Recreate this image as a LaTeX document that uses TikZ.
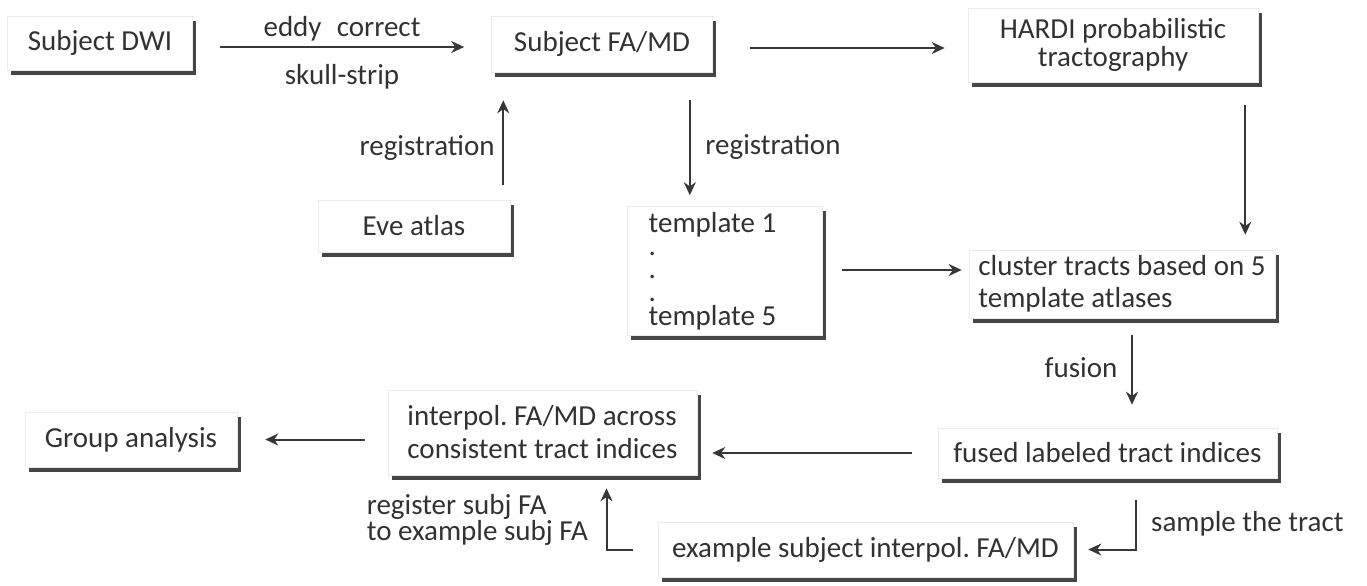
\documentclass[tikz,border=0pt]{standalone}
\usepackage{fontspec}
\setmainfont{Carlito}
\usepackage{tikz}
\usetikzlibrary{arrows.meta,shadows,calc,positioning}
\frenchspacing
\definecolor{txtcolor}{RGB}{50,50,50}
\definecolor{edgecolor}{RGB}{55,55,55}
\definecolor{shadowcolor}{RGB}{50,50,50}
\tikzstyle{every node}=[font=\fontsize{14.5}{16}\selectfont, text=txtcolor]
\tikzstyle{stage}=[rectangle, draw=black!8, line width=0.3pt, fill=white, align=center, inner sep=0pt, drop shadow={shadow xshift=1.8pt, shadow yshift=-2.3pt, fill=shadowcolor, opacity=0.9}]
\tikzstyle{stage left}=[stage, align=left]
\tikzstyle{flowedge}=[-{Stealth[length=6.5pt,width=6pt]}, line width=1pt, edgecolor]

\begin{document}
\begin{tikzpicture}[x=0.5pt, y=-0.5pt]
\useasboundingbox (0,0) rectangle (1367,585);

    % pipeline stages
    \node[stage, minimum width=92.5pt, minimum height=27pt] (dwi) at (100,43) {Subject DWI};
    \node[stage, minimum width=110.5pt, minimum height=28pt] (famd) at (602,44) {Subject FA/MD};
    \node[stage, minimum width=145pt, minimum height=37pt, font=\fontsize{14.5}{14}\selectfont] (hardi) at (1113,45) {HARDI probabilistic\\tractography};
    \node[stage, minimum width=96pt, minimum height=26pt] (eve) at (414,226) {Eve atlas};
    \node[stage left, minimum width=97.5pt, minimum height=64.5pt, font=\fontsize{14.5}{11.6}\selectfont] (tmpl) at (724.5,271) {template 1\hspace*{12pt}\\.\\.\\.\\template 5};
    \node[stage left, minimum width=153pt, minimum height=34pt] (clust) at (1122,284) {cluster tracts based on 5\\template atlases};
    \node[stage, minimum width=169.5pt, minimum height=25pt] (fused) at (1107.5,453) {fused labeled tract indices};
    \node[stage left, minimum width=154.5pt, minimum height=42.5pt, font=\fontsize{14.5}{16.5}\selectfont] (interp) at (542.5,432.5) {interpol. FA/MD across\\consistent tract indices};
    \node[stage, minimum width=106pt, minimum height=27.5pt] (group) at (131,439.5) {Group analysis};
    \node[stage, minimum width=207.5pt, minimum height=27.5pt] (example) at (865.5,549.5) {example subject interpol. FA/MD};

    % top row
    \draw[flowedge, shorten <=13.5pt, shorten >=13.5pt] ([yshift=-2pt]dwi.east) -- ([yshift=-2pt]dwi.east -| famd.west)
        node[midway, yshift=9pt] {eddy\hspace{0.3em} correct}
        node[midway, yshift=-15pt] {skull-strip};
    \draw[flowedge, shorten <=18.5pt, shorten >=11.5pt] ([yshift=-2pt]famd.east) -- ([yshift=-2pt]famd.east -| hardi.west);

    % registrations
    \draw[flowedge, shorten <=7.5pt, shorten >=14pt] ([xshift=-3.5pt]eve.north east) -- ([xshift=-3.5pt]eve.north east |- famd.south)
        node[pos=0.41, left=0.5pt] {registration};
    \draw[flowedge, shorten <=14pt, shorten >=5.5pt] ([xshift=-11.5pt]famd.south east) -- ([xshift=-11.5pt]famd.south east |- tmpl.north)
        node[pos=0.56, right=4pt] {registration};

    % clustering
    \draw[flowedge, shorten <=11.5pt, shorten >=7.5pt] ([xshift=-6.5pt]hardi.south east) -- ([xshift=-6.5pt]hardi.south east |- clust.north);
    \draw[flowedge, shorten <=10pt, shorten >=3.5pt] ([yshift=7pt]clust.west -| tmpl.east) -- ([yshift=7pt]clust.west);
    \draw[flowedge, shorten <=8.5pt, shorten >=11.5pt] ([xshift=5pt]clust.south) -- ([xshift=5pt]clust.south |- fused.north)
        node[pos=0.45, left=3.5pt] {fusion};

    % bottom row
    \draw[flowedge, shorten <=13pt, shorten >=7.5pt] (fused.west) -- (fused.west -| interp.east);
    \draw[flowedge, shorten <=11.5pt, shorten >=14pt] (group.east -| interp.west) -- (group.east);
    \draw[flowedge, shorten <=11pt, shorten >=7.5pt] ([xshift=14pt]fused.south) |- (example.east)
        node[pos=0.32, right=4pt] {sample the tract};
    \draw[flowedge, shorten <=12.5pt, shorten >=6.5pt] (example.west) -| ([xshift=32pt]interp.south)
        node[pos=0.7, left=5.5pt, align=left, font=\fontsize{14.5}{13}\selectfont] {register subj FA\\to example subj FA};
\end{tikzpicture}
\end{document}
